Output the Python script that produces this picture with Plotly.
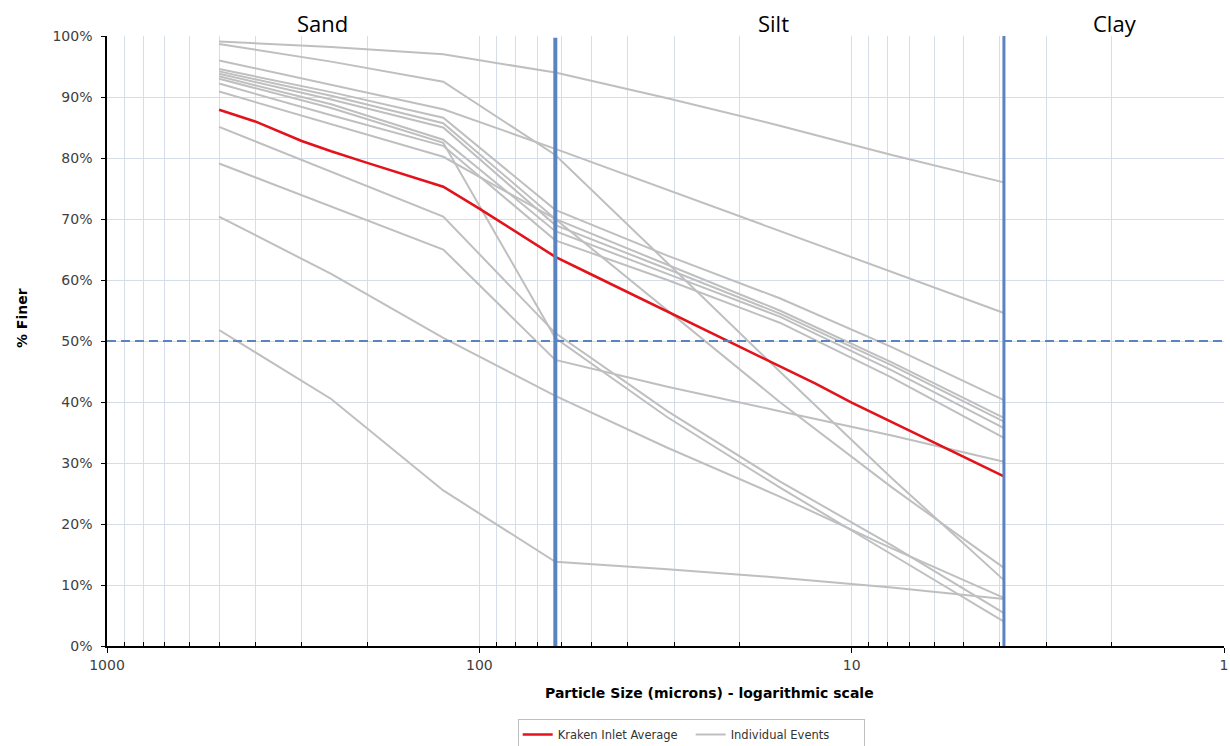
import plotly.graph_objects as go

# ---------------- data ----------------
SIZES = [500, 250, 125, 62.5, 31.25, 15.6, 7.8, 3.9]  # microns

EVENTS = {
    "ev01": [99.1, 98.2, 97.0, 94.0, 89.8, 85.3, 80.5, 76.0],
    "ev02": [98.7, 95.8, 92.5, 80.5, 62.8, 45.0, 27.5, 10.8],
    "ev03": [96.0, 92.0, 88.0, 81.5, 74.8, 68.0, 61.3, 54.6],
    "ev04": [94.6, 90.8, 86.6, 71.5, 64.0, 57.0, 49.0, 40.3],
    "ev05": [94.2, 90.2, 85.7, 70.0, 62.5, 55.0, 46.5, 37.4],
    "ev06": [93.8, 89.6, 85.0, 69.0, 61.8, 54.5, 46.0, 36.8],
    "ev07": [93.4, 88.8, 83.0, 68.0, 61.0, 54.0, 45.2, 35.7],
    "ev08": [92.2, 87.0, 82.0, 66.5, 60.0, 53.0, 44.0, 34.1],
    "ev09": [90.9, 85.5, 80.2, 70.0, 55.0, 40.0, 26.0, 12.8],
    "ev10": [85.1, 77.8, 70.4, 51.3, 38.5, 27.0, 16.5, 5.4],
    "ev11": [79.1, 72.0, 65.0, 46.9, 42.5, 38.5, 34.5, 30.2],
    "ev12": [70.4, 61.0, 50.5, 41.0, 32.5, 24.5, 16.0, 7.9],
    "ev13": [51.8, 40.5, 25.5, 13.8, 12.6, 11.2, 9.6, 7.7],
    "ev14": [93.0, 88.2, 82.5, 50.5, 37.5, 26.0, 15.0, 4.0],
}

AVG_SIZES = [500, 400, 300, 250, 200, 150, 125, 100, 80, 62.5, 50, 40,
             31.25, 25, 20, 15.6, 12.5, 10, 8, 6, 5, 3.9]
AVG_VALUES = [87.9, 86.0, 82.8, 81.1, 79.2, 76.8, 75.3, 71.7, 68.0, 63.8,
              60.9, 58.0, 54.8, 52.0, 49.0, 45.8, 43.0, 39.9, 37.0, 33.3,
              31.0, 27.8]

SAND_SILT = 62.5
SILT_CLAY = 3.9
D50 = 50
X_MAJOR = [1000, 100, 10, 1]
X_MINOR = [m * 10 ** e for e in range(0, 3) for m in range(2, 10)]
ZONES = ["Sand", "Silt", "Clay"]

GREY = "#BFBFBF"
RED = "#E3121B"
BLUE = "#5A83C2"
GRID = "#D6DDE8"

fig = go.Figure()

first = True
for name, vals in EVENTS.items():
    fig.add_trace(go.Scatter(
        x=SIZES, y=vals, mode="lines",
        line=dict(color=GREY, width=2),
        name="Individual Events", legendgroup="ev",
        showlegend=first, legendrank=2,
    ))
    first = False

fig.add_trace(go.Scatter(
    x=AVG_SIZES, y=AVG_VALUES, mode="lines",
    line=dict(color=RED, width=2.6),
    name="Kraken Inlet Average", legendrank=1,
))

# reference lines
fig.add_trace(go.Scatter(x=[X_MAJOR[0], X_MAJOR[-1]], y=[D50, D50], mode="lines",
                         line=dict(color=BLUE, width=2, dash="9px,5px"),
                         showlegend=False, hoverinfo="skip"))
fig.add_trace(go.Scatter(x=[SAND_SILT, SAND_SILT], y=[0, 99.7], mode="lines",
                         line=dict(color=BLUE, width=4),
                         showlegend=False, hoverinfo="skip"))
fig.add_trace(go.Scatter(x=[SILT_CLAY, SILT_CLAY], y=[0, 100], mode="lines",
                         line=dict(color=BLUE, width=3),
                         showlegend=False, hoverinfo="skip"))

tickfont = dict(family="DejaVu Sans", size=14, color="#404040")

fig.update_xaxes(
    type="log", range=[3, 0],
    tickmode="array", tickvals=X_MAJOR, ticktext=[str(v) for v in X_MAJOR],
    showgrid=True, gridcolor=GRID, gridwidth=1,
    showline=True, linecolor="black", linewidth=1.5,
    ticks="outside", ticklen=5, tickcolor="black",
    tickfont=tickfont, zeroline=False, ticklabeloverflow="allow",
    minor=dict(tickmode="array", tickvals=X_MINOR, showgrid=True,
               gridcolor=GRID, gridwidth=1, ticks="inside", ticklen=4,
               tickcolor="black"),
)
fig.update_yaxes(
    range=[0, 100], dtick=10, ticksuffix="%",
    showgrid=True, gridcolor=GRID, gridwidth=1,
    showline=True, linecolor="black", linewidth=1.5,
    ticks="outside", ticklen=4, tickcolor="black",
    tickfont=tickfont, zeroline=False, ticklabelstandoff=6,
)

ann = []
for label, px in zip(ZONES, [0.193, 0.597, 0.902]):
    ann.append(dict(text=label, xref="paper", yref="paper", x=px, y=1,
                    xanchor="center", yanchor="middle", yshift=13,
                    showarrow=False,
                    font=dict(family="Open Sans", size=22, color="black")))
ann.append(dict(text="<b>% Finer</b>", xref="paper", yref="paper",
                x=-0.0759, y=0.538, textangle=-90, showarrow=False,
                xanchor="center", yanchor="middle",
                font=dict(family="DejaVu Sans", size=14, color="black")))
ann.append(dict(text="<b>Particle Size (microns) - logarithmic scale</b>",
                xref="paper", yref="paper", x=0.539, y=-0.077,
                xanchor="center", yanchor="middle", showarrow=False,
                font=dict(family="DejaVu Sans", size=14, color="black")))

# Figure slightly larger than the window (the reference crops the legend and
# the "1" label at the edges); page margin removed and overflow hidden.
fig.update_layout(
    width=1240, height=770,
    margin=dict(l=107, r=13, t=36, b=124),
    paper_bgcolor="white", plot_bgcolor="white",
    annotations=ann,
    legend=dict(orientation="h", x=0.523, xanchor="center", y=-0.1197,
                yanchor="top", bordercolor="#BFBFBF", borderwidth=1,
                font=dict(family="DejaVu Sans", size=11.5, color="#333333"),
                itemwidth=30, tracegroupgap=0, entrywidth=128),
    showlegend=True,
)

fig.write_html(
    "out.html",
    config={"displayModeBar": False},
    post_script="document.body.style.margin='0';"
                "document.body.style.overflow='hidden';",
)
